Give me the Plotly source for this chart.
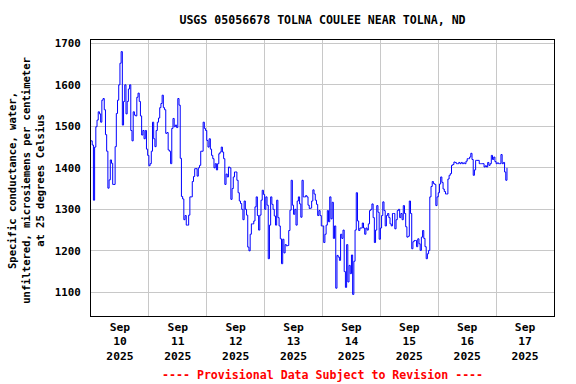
import pandas as pd
import plotly.graph_objects as go

# Specific conductance, half-hourly readings starting 2025-09-10 00:00
day1 = [1465, 1455, 1322, 1450, 1499, 1515, 1535, 1530, 1510, 1563,
        1567, 1540, 1480, 1440, 1351, 1371, 1419, 1411, 1360, 1360,
        1451, 1531, 1563, 1600, 1652, 1680, 1503, 1560, 1600, 1530,
        1560, 1590, 1600, 1490, 1465, 1535, 1527, 1525, 1570, 1580,
        1560, 1525, 1479, 1490, 1470, 1490, 1445, 1430, 1405, 1410,
        1440, 1510, 1470, 1451, 1490, 1510, 1520, 1545, 1555, 1575,
        1545, 1540, 1483, 1485, 1443, 1440, 1410, 1495, 1519, 1499,
        1503, 1497, 1567, 1551, 1423, 1331, 1325, 1275, 1285, 1262,
        1262, 1286, 1330, 1330, 1367, 1379]
day2 = [1398, 1398, 1380, 1400, 1406, 1440, 1440, 1510, 1495, 1490,
        1466, 1450, 1470, 1445, 1430, 1422, 1400, 1410, 1395, 1410,
        1434, 1438, 1450, 1438, 1422, 1360, 1385, 1378, 1402, 1400,
        1324, 1350, 1378, 1390, 1390, 1370, 1340, 1320, 1314, 1300,
        1275, 1320, 1300, 1286, 1209, 1200, 1240, 1265, 1265, 1272,
        1306, 1330, 1285, 1250, 1286, 1322, 1346, 1336, 1300, 1330,
        1310, 1181, 1262, 1330, 1312, 1300, 1284, 1262, 1322, 1280,
        1260, 1229, 1169, 1228, 1195, 1215, 1212, 1213, 1249, 1298,
        1370, 1310, 1288, 1300, 1262, 1320]
day3 = [1330, 1313, 1281, 1370, 1330, 1330, 1333, 1330, 1310, 1302,
        1303, 1320, 1347, 1337, 1322, 1312, 1285, 1297, 1285, 1260,
        1260, 1220, 1240, 1262, 1297, 1270, 1330, 1277, 1317, 1230,
        1260, 1110, 1189, 1185, 1177, 1240, 1230, 1250, 1150, 1112,
        1215, 1125, 1165, 1145, 1190, 1095, 1175, 1250, 1340, 1272,
        1249, 1255, 1255, 1267, 1255, 1240, 1255, 1250, 1265, 1297,
        1300, 1313, 1280, 1220, 1250, 1309, 1293, 1228, 1255, 1285,
        1318, 1297, 1260, 1285, 1290, 1280, 1265, 1260, 1290, 1290,
        1253, 1275, 1297, 1300, 1280, 1290, 1275, 1309]
day4 = [1290, 1258, 1233, 1235, 1320, 1290, 1205, 1222, 1225, 1225,
        1210, 1229, 1217, 1201, 1233, 1249, 1230, 1210, 1181, 1193,
        1201, 1330, 1355, 1367, 1362, 1360, 1309, 1330, 1340, 1361,
        1378, 1365, 1349, 1343, 1337, 1337, 1373, 1382, 1386, 1406,
        1408, 1414, 1413, 1410, 1410, 1413, 1410, 1413, 1410, 1412,
        1410, 1416, 1422, 1422, 1426, 1435, 1420, 1382, 1395, 1418,
        1418, 1418, 1410, 1410, 1410, 1410, 1402, 1405, 1402, 1413,
        1406, 1410, 1430, 1420, 1426, 1415, 1410, 1412, 1410, 1410,
        1432, 1410, 1413, 1390, 1370, 1400]
values = day1 + day2 + day3 + day4
times = pd.date_range("2025-09-10 00:00", periods=len(values), freq="30min")

tick_vals = ["2025-09-10 12:00", "2025-09-11 12:00", "2025-09-12 12:00",
             "2025-09-13 12:00", "2025-09-14 12:00", "2025-09-15 12:00",
             "2025-09-16 12:00", "2025-09-17 12:00"]
tick_text = ["Sep<br>10<br>2025", "Sep<br>11<br>2025", "Sep<br>12<br>2025",
             "Sep<br>13<br>2025", "Sep<br>14<br>2025", "Sep<br>15<br>2025",
             "Sep<br>16<br>2025", "Sep<br>17<br>2025"]

FONT = "DejaVu Sans Mono"
GRID = "#c8c8c8"

fig = go.Figure(go.Scatter(x=times, y=values, mode="lines",
                           line=dict(color="#0000ff", width=1, shape="hv"),
                           hoverinfo="skip"))

fig.update_layout(
    width=576, height=384,
    margin=dict(l=91, r=22, t=40, b=68),
    paper_bgcolor="white", plot_bgcolor="white",
    showlegend=False,
    title=dict(text="USGS 05056678 TOLNA COULEE NEAR TOLNA, ND",
               x=0.5, xref="paper", xanchor="center",
               y=1 - 20 / 384, yref="container", yanchor="middle",
               font=dict(family=FONT, size=11.6, color="black", weight="bold")),
    xaxis=dict(type="date", range=["2025-09-10 00:00", "2025-09-18 00:00"],
               tickmode="array", tickvals=tick_vals, ticktext=tick_text,
               showgrid=False, ticks="", zeroline=False,
               showline=True, mirror=True, linecolor="black", linewidth=1,
               tickfont=dict(family=FONT, size=11.3, color="black", weight="bold"),
               minor=dict(dtick=86400000, tick0="2025-09-10", showgrid=True,
                          gridcolor=GRID, gridwidth=1, ticks="")),
    yaxis=dict(range=[1043, 1708], tick0=1000, dtick=100,
               showgrid=True, gridcolor=GRID, gridwidth=1, ticks="",
               zeroline=False, showline=True, mirror=True,
               linecolor="black", linewidth=1, ticklabelstandoff=7,
               tickfont=dict(family=FONT, size=10.8, color="black", weight="bold")),
    annotations=[
        dict(text="Specific conductance, water,<br>unfiltered, microsiemens per centimeter<br>at 25 degrees Celsius",
             xref="paper", yref="paper", x=-65 / 463, y=0.49,
             xanchor="center", yanchor="middle", textangle=-90,
             showarrow=False, align="center",
             font=dict(family=FONT, size=10.5, color="black", weight="bold")),
        dict(text="---- Provisional Data Subject to Revision ----",
             xref="paper", yref="paper", x=0.5, y=-(375 - 316) / 276,
             xanchor="center", yanchor="middle", showarrow=False,
             font=dict(family=FONT, size=11.6, color="#ff0000", weight="bold")),
    ],
)

fig.write_html("out.html")
